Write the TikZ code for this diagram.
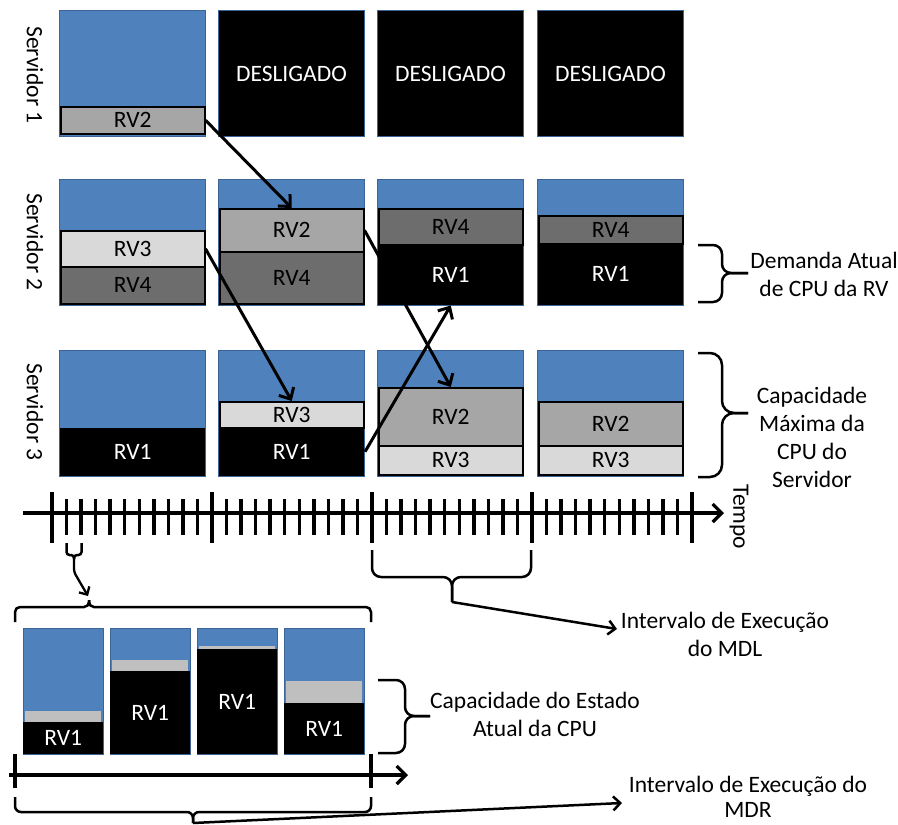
\documentclass[tikz,border=0pt]{standalone}
\usepackage{fontspec}
\setmainfont{Carlito}
\usetikzlibrary{arrows.meta}
\definecolor{bfill}{HTML}{4F81BD}
\definecolor{bline}{HTML}{3C6496}
\definecolor{gA}{HTML}{A6A6A6}
\definecolor{gB}{HTML}{D9D9D9}
\definecolor{gC}{HTML}{6D6D6D}
\definecolor{gD}{HTML}{BFBFBF}
\begin{document}
\begin{tikzpicture}[x=1pt,y=-1pt,
  every node/.style={font=\fontsize{23.5}{28}\selectfont},
  srv/.style={draw=bline, fill=bfill, line width=1pt, inner sep=0pt, anchor=north west, minimum width=146pt, minimum height=126pt},
  offbox/.style={srv, fill=black, text=white},
  band/.style={draw=black, line width=1.5pt, inner sep=0pt, anchor=north west, minimum width=144pt},
  rvA/.style={band, fill=gA}, rvB/.style={band, fill=gB}, rvC/.style={band, fill=gC},
  rvD/.style={band, draw=none, fill=black, text=white, minimum width=145pt},
  mini/.style={draw=bline, fill=bfill, line width=1pt, inner sep=0pt, anchor=north west, minimum width=80pt, minimum height=126pt},
  mgray/.style={fill=gD, inner sep=0pt, anchor=north west, minimum width=76pt},
  mblack/.style={fill=black, text=white, inner sep=0pt, anchor=north west, minimum width=80pt},
  mig/.style={line width=3pt, -{Straight Barb[length=9pt,width=17pt]}},
  brc/.style={line width=2.5pt, rounded corners=9pt},
  axisline/.style={line width=3.2pt, -{Straight Barb[length=9pt,width=18pt]}},
  tick/.style={line width=3.5pt},
  lbl/.style={align=center}
]
\useasboundingbox (0,0) rectangle (898,825);

% server labels
\node[rotate=-90] (lab1) at (35,75) {Servidor 1};
\node[rotate=-90] (lab2) at (35,242) {Servidor 2};
\node[rotate=-90] (lab3) at (35,412) {Servidor 3};

% row 1
\node[srv] (s1a) at (59,10) {};
\node[offbox] (s1b) at (218,10) {DESLIGADO};
\node[offbox] (s1c) at (377,10) {DESLIGADO};
\node[offbox] (s1d) at (537,10) {DESLIGADO};
\node[rvA, minimum height=27pt] (s1a2) at (60,106) {RV2};

% row 2
\node[srv] (s2a) at (59,179) {};
\node[srv] (s2b) at (218,179) {};
\node[srv] (s2c) at (377,179) {};
\node[srv] (s2d) at (537,179) {};
\node[rvB, minimum height=36pt] (s2a3) at (60,230) {RV3};
\node[rvC, minimum height=37pt] (s2a4) at (60,266) {RV4};
\node[rvA, minimum height=43pt] (s2b2) at (219,208) {RV2};
\node[rvC, minimum height=52pt] (s2b4) at (219,251) {RV4};
\node[rvD, minimum height=60pt] (s2c1) at (377.5,244) {RV1};
\node[rvC, minimum height=36pt] (s2c4) at (378,208) {RV4};
\node[rvD, minimum height=61pt] (s2d1) at (537.5,243) {RV1};
\node[rvC, minimum height=28pt] (s2d4) at (538,215) {RV4};

% row 3
\node[srv] (s3a) at (59,350) {};
\node[srv] (s3b) at (218,350) {};
\node[srv] (s3c) at (377,350) {};
\node[srv] (s3d) at (537,350) {};
\node[rvD, minimum height=48pt] (s3a1) at (59.5,427) {RV1};
\node[rvD, minimum height=48pt] (s3b1) at (218.5,427) {RV1};
\node[rvB, minimum height=26pt] (s3b3) at (219,401) {RV3};
\node[rvA, minimum height=58pt] (s3c2) at (378,387) {RV2};
\node[rvB, minimum height=29pt] (s3c3) at (378,445) {RV3};
\node[rvA, minimum height=44pt] (s3d2) at (538,401) {RV2};
\node[rvB, minimum height=29pt] (s3d3) at (538,445) {RV3};

% migrations
\draw[mig] (s1a2.east) -- (s2b2.north);
\draw[mig] (s2a3.east) -- (s3b3.north);
\draw[mig] (s2b2.east) -- (s3c2.north);
\draw[mig] (s3b1.east) -- (s2c1.south);

% right braces and labels
\draw[brc] (698,245) -- (722,245) -- (722,273) -- (748,273);
\draw[brc] (698,302) -- (722,302) -- (722,273) -- (748,273);
\node[lbl] (dem) at (824,274.5) {Demanda Atual\\de CPU da RV};
\draw[brc,rounded corners=12pt] (698,353) -- (722,353) -- (722,413) -- (748,413);
\draw[brc,rounded corners=12pt] (698,477) -- (722,477) -- (722,413) -- (748,413);
\node[lbl] (capmax) at (812,437) {Capacidade\\Máxima da\\CPU do\\Servidor};

% main time axis
\coordinate (ax0) at (23,513);
\coordinate (ax1) at (724,513);
\draw[axisline] (ax0) -- (ax1);
\foreach \i in {1,...,43} {
  \pgfmathsetmacro\tx{52+160*\i/11}
  \draw[tick] (\tx,499) -- (\tx,535);
}
\foreach \tx in {52,212,372,532,692} {
  \draw[tick] (\tx,492) -- (\tx,543);
}
\node[rotate=-90] (tempo) at (739,517) {Tempo};

% MDL brace
\coordinate (tMDL) at (452,602);
\draw[brc] (372,550) -- (372,577) -- (452,577) -- (tMDL);
\draw[brc] (531,550) -- (531,577) -- (452,577) -- (tMDL);
\node[lbl] (mdl) at (725,634.5) {Intervalo de Execução\\do MDL};
\coordinate (eMDL) at (617,629);
\draw[line width=2.5pt, -{Straight Barb[length=7pt,width=14pt]}] (tMDL) -- (eMDL);

% small brace + zoom arrow
\coordinate (tSmall) at (74,559);
\draw[brc,rounded corners=3pt] (66.5,543) -- (66.5,555) -- (74,555) -- (tSmall);
\draw[brc,rounded corners=3pt] (81.5,543) -- (81.5,555) -- (74,555) -- (tSmall);
\coordinate (tBig) at (89,600);
\draw[line width=2.3pt, rounded corners=3pt, -{Straight Barb[length=6pt,width=12pt]}] (tSmall) -- (74,572) -- (88,596);
\draw[brc,rounded corners=5pt] (15,622) -- (15,607) -- (89,607) -- (tBig);
\draw[brc,rounded corners=5pt] (371,622) -- (371,607) -- (89,607) -- (tBig);

% mini boxes
\node[mini] (m1) at (23,628) {};
\node[mini] (m2) at (110,628) {};
\node[mini] (m3) at (197,628) {};
\node[mini] (m4) at (284,628) {};
\node[mgray, minimum height=11pt] (m1g) at (25,711) {};
\node[mgray, minimum height=11pt] (m2g) at (112,660) {};
\node[mgray, minimum height=3.5pt] (m3g) at (199,645.5) {};
\node[mgray, minimum height=22pt] (m4g) at (286,681) {};
\node[mblack, minimum height=32pt] (m1b) at (23,722) {RV1};
\node[mblack, minimum height=83pt] (m2b) at (110,671) {RV1};
\node[mblack, minimum height=105pt] (m3b) at (197,649) {RV1};
\node[mblack, minimum height=51pt] (m4b) at (284,703) {RV1};

% state brace
\draw[brc] (378,680) -- (405,680) -- (405,716) -- (430,716);
\draw[brc] (378,753) -- (405,753) -- (405,716) -- (430,716);
\node[lbl] (est) at (535,714) {Capacidade do Estado\\Atual da CPU};

% bottom axis
\coordinate (bx0) at (9,775);
\coordinate (bx1) at (408,775);
\draw[axisline] (bx0) -- (bx1);
\draw[tick] (15,754) -- (15,788);
\draw[tick] (371,754) -- (371,788);

% MDR brace
\coordinate (tMDR) at (193,823);
\draw[brc,rounded corners=6pt] (15,797) -- (15,812) -- (193,812) -- (tMDR);
\draw[brc,rounded corners=6pt] (371,797) -- (371,812) -- (193,812) -- (tMDR);
\node[lbl, font=\fontsize{23.5}{25.5}\selectfont, inner sep=1pt] (mdr) at (748,797) {Intervalo de Execução do\\MDR};
\coordinate (eMDR) at (622,803);
\draw[line width=2.5pt, -{Straight Barb[length=7pt,width=14pt]}] (tMDR) -- (eMDR);
\end{tikzpicture}
\end{document}
